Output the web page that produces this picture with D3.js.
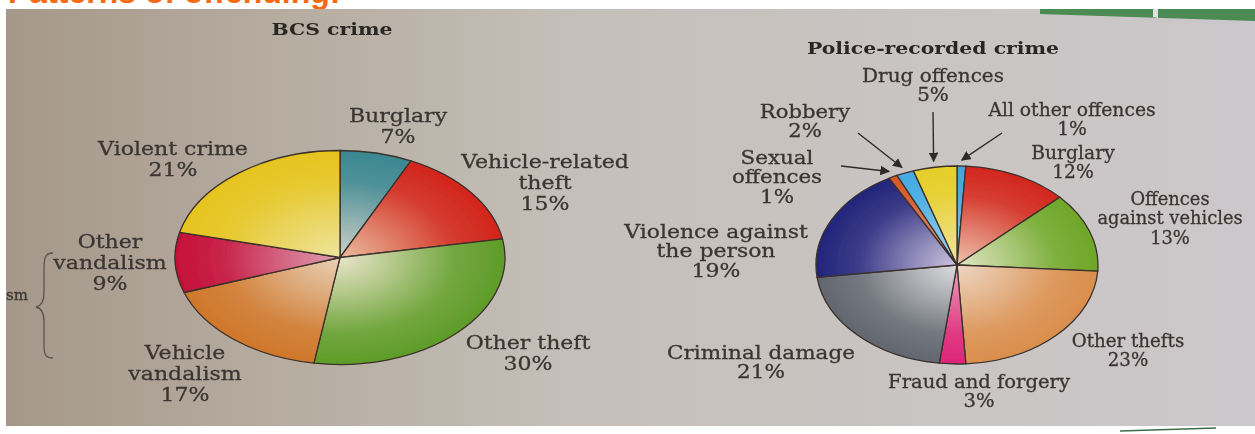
<!DOCTYPE html>
<html lang="en">
<head>
<meta charset="utf-8">
<title>BCS crime and police-recorded crime</title>
<script src="https://cdnjs.cloudflare.com/ajax/libs/d3/7.8.5/d3.min.js"></script>
<style>
  body { margin: 0; background: #fff; }
  svg { display: block; }
  .lbl { font-family: "DejaVu Serif", serif; fill: #3b3633; stroke: #3b3633; stroke-width: 0.3; }
  .ttl { font-family: "DejaVu Serif", serif; font-weight: bold; fill: #2c2826; }
</style>
</head>
<body>
<svg id="chart" width="1255" height="434"></svg>
<script>
// BCS crime, clockwise from 12 o'clock
var bcsCategories = [["Burglary"], ["Vehicle-related", "theft"], ["Other theft"], ["Vehicle", "vandalism"], ["Other", "vandalism"], ["Violent crime"]];
var bcsValues = [7, 15, 30, 17, 9, 21];

// police-recorded crime, clockwise from 12 o'clock
var policeCategories = [["All other offences"], ["Burglary"], ["Offences", "against vehicles"], ["Other thefts"], ["Fraud and forgery"],
                        ["Criminal damage"], ["Violence against", "the person"], ["Sexual", "offences"], ["Robbery"], ["Drug offences"]];
var policeValues = [1, 12, 13, 23, 3, 21, 19, 1, 2, 5];

// colours per slice: [rim, core]
var bcsColors = [["#3a8791", "#cdd0c8"], ["#d2241b", "#e9bb9c"], ["#5e9c28", "#e8e4c8"],
                 ["#cf772a", "#e8d0b6"], ["#c5103a", "#dea0b4"], ["#e6c41e", "#ede49c"]];
var policeColors = [["#46a2d6", "#9fd0ea"], ["#d2261d", "#edc3ac"], ["#6ea628", "#e2e6c4"], ["#da8e4c", "#ecd6c2"],
                    ["#de2678", "#eaa0bd"], ["#62666f", "#dcdcde"], ["#22247a", "#cdc4de"], ["#d55826", "#e8a888"],
                    ["#44aae2", "#a8d6f0"], ["#e6ce28", "#efe6a0"]];

// layout
var bcsPie = {cx: 340, cy: 257.5, rx: 165, ry: 107, font: 19, lead: 21};
var policePie = {cx: 957, cy: 265, rx: 141, ry: 99, font: 18, lead: 19.5};
var bcsLabelPos = [[398, 122], [545, 168], [528, 349], [185, 359], [110, 248], [173, 155]];
var policeLabelPos = [[1072, 116], [1073, 159], [1170, 205], [1128, 347], [979, 388],
                      [761, 359], [716, 238], [777, 164], [805, 118], [933, 82]];
var policeArrows = {0: [1002, 133], 7: [841, 166], 8: [858, 133], 9: [933, 112]};

// the photo squeezes text more towards the right-hand side
function stretchAt(x) {
  return x < 640 ? 1.16 : Math.max(0.98, 1.22 - (x - 715) * 0.0005);
}

var svg = d3.select("#chart");
var defs = svg.append("defs");

defs.append("linearGradient").attr("id", "paper")
  .selectAll("stop")
  .data([[0, "#a5988a"], [0.22, "#b6aca0"], [0.45, "#c4bfb8"], [0.75, "#c9c5c4"], [1, "#ccc7ca"]])
  .enter().append("stop")
    .attr("offset", d => d[0])
    .attr("stop-color", d => d[1]);

defs.append("filter").attr("id", "soft")
  .append("feGaussianBlur").attr("stdDeviation", 0.55);

defs.append("marker")
    .attr("id", "head")
    .attr("viewBox", "0 0 10 10")
    .attr("refX", 9).attr("refY", 5)
    .attr("markerWidth", 7).attr("markerHeight", 7)
    .attr("markerUnits", "strokeWidth")
    .attr("orient", "auto")
  .append("path")
    .attr("d", "M0,0 L10,5 L0,10 z")
    .attr("fill", "#2f2b29");

// cut-off heading above the photo
svg.append("text")
  .attr("x", 8).attr("y", 3)
  .style("font-family", "'Liberation Sans', Arial, sans-serif")
  .style("font-weight", "bold")
  .style("font-size", "32px")
  .attr("fill", "#f76a12")
  .text("Patterns of offending:");

var photo = svg.append("g").attr("filter", "url(#soft)");

photo.append("rect")
  .attr("x", 6).attr("y", 9)
  .attr("width", 1249).attr("height", 417)
  .attr("fill", "url(#paper)");

// green band at top right of the page
photo.append("path")
  .attr("d", "M1040,9 L1255,9 L1255,21 L1040,14 Z")
  .attr("fill", "#4b8a53");
photo.append("path")
  .attr("d", "M1153,9 L1158,9 L1158,18 L1153,17 Z")
  .attr("fill", "#dfe3dd");
photo.append("path")
  .attr("d", "M1120,431 L1216,428")
  .attr("stroke", "#3d6e48").attr("stroke-width", 1.5);

function labelText(x, y, lines, pct, opt) {
  var t = photo.append("text")
    .attr("class", "lbl")
    .attr("text-anchor", "middle")
    .attr("transform", "translate(" + x + "," + y + ") scale(" + stretchAt(x) + ",1)")
    .style("font-size", opt.font + "px");
  lines.concat([pct + "%"]).forEach(function(s, i) {
    t.append("tspan").attr("x", 0).attr("dy", i ? opt.lead : 0).text(s);
  });
}

function drawPie(id, values, colors, opt) {
  var arcs = d3.pie().sort(null).value(d => d)(values);
  var arc = d3.arc().innerRadius(0).outerRadius(opt.rx);

  colors.forEach(function(c, i) {
    var mix = d3.interpolateRgb(c[1], c[0]);
    defs.append("radialGradient")
        .attr("id", id + i)
        .attr("gradientUnits", "userSpaceOnUse")
        .attr("cx", 0).attr("cy", 0).attr("r", opt.rx)
      .selectAll("stop")
      .data([[0, 0], [0.3, 0.35], [0.7, 0.85], [1, 1]])
      .enter().append("stop")
        .attr("offset", d => d[0])
        .attr("stop-color", d => mix(d[1]));
  });

  var g = photo.append("g")
    .attr("transform", "translate(" + opt.cx + "," + opt.cy + ") scale(1," + (opt.ry / opt.rx) + ")");

  g.selectAll("path")
    .data(arcs)
    .enter().append("path")
      .attr("d", arc)
      .attr("fill", (d, i) => "url(#" + id + i + ")")
      .attr("stroke", "#3a302c")
      .attr("stroke-width", 1.3)
      .attr("vector-effect", "non-scaling-stroke");

  return arcs;
}

var bcsArcs = drawPie("bcs", bcsValues, bcsColors, bcsPie);
var policeArcs = drawPie("pol", policeValues, policeColors, policePie);

bcsCategories.forEach(function(c, i) {
  labelText(bcsLabelPos[i][0], bcsLabelPos[i][1], c, bcsValues[i], bcsPie);
});
policeCategories.forEach(function(c, i) {
  labelText(policeLabelPos[i][0], policeLabelPos[i][1], c, policeValues[i], policePie);
});

// arrows from small labels to their slices
Object.keys(policeArrows).forEach(function(k) {
  var a = policeArcs[k], mid = (a.startAngle + a.endAngle) / 2, f = 1.06;
  var x2 = policePie.cx + policePie.rx * f * Math.sin(mid),
      y2 = policePie.cy - policePie.ry * f * Math.cos(mid);
  photo.append("line")
    .attr("x1", policeArrows[k][0]).attr("y1", policeArrows[k][1])
    .attr("x2", x2).attr("y2", y2)
    .attr("stroke", "#2f2b29")
    .attr("stroke-width", 1.4)
    .attr("marker-end", "url(#head)");
});

// titles
photo.append("text").attr("class", "ttl").attr("text-anchor", "middle")
  .attr("transform", "translate(332,35) scale(1.2,1)")
  .style("font-size", "17px").text("BCS crime");
photo.append("text").attr("class", "ttl").attr("text-anchor", "middle")
  .attr("transform", "translate(933,54) scale(1.2,1)")
  .style("font-size", "17px").text("Police-recorded crime");

// brace and cut-off word at the left edge
photo.append("path")
  .attr("d", "M53,253 C45,253 44,258 44,270 L44,293 C44,302 41,306 36,307 C41,308 44,312 44,322 L44,346 C44,355 46,358 53,358")
  .attr("fill", "none")
  .attr("stroke", "#5a5450")
  .attr("stroke-width", 1.3);
photo.append("text").attr("class", "lbl").attr("text-anchor", "end")
  .attr("x", 28).attr("y", 300)
  .style("font-size", "15px").text("sm");
</script>
</body>
</html>
